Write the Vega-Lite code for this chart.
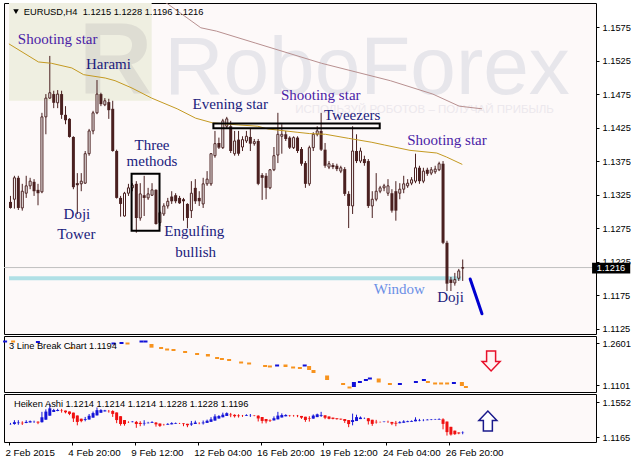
{
"$schema":"https://vega.github.io/schema/vega-lite/v6.json",
"padding":{"left":2,"top":2,"right":0,"bottom":0},
"background":"#ffffff",
"config":{"view":{"stroke":"#000000","strokeWidth":1,"fill":"#fdf9f9"},"axis":{"labelFont":"Liberation Sans","labelFontSize":9.3,"labelColor":"#000000","tickColor":"#000000","domain":false,"grid":false,"labelOverlap":false}},
"resolve":{"scale":{"color":"independent"}},
"datasets":{
"candles":[
{"i":0,"o":1.1314,"h":1.1323,"l":1.1304,"c":1.1305},{"i":1,"o":1.1318,"h":1.1353,"l":1.1304,"c":1.1350},{"i":2,"o":1.1350,"h":1.1353,"l":1.1302,"c":1.1305},{"i":3,"o":1.1305,"h":1.1341,"l":1.1301,"c":1.1330},{"i":4,"o":1.1327,"h":1.1353,"l":1.1320,"c":1.1338},{"i":5,"o":1.1338,"h":1.1350,"l":1.1333,"c":1.1345},{"i":6,"o":1.1344,"h":1.1348,"l":1.1323,"c":1.1330},{"i":7,"o":1.1332,"h":1.1341,"l":1.1309,"c":1.1327},{"i":8,"o":1.1329,"h":1.1447,"l":1.1327,"c":1.1441},{"i":9,"o":1.1441,"h":1.1475,"l":1.1415,"c":1.1469},
{"i":10,"o":1.1469,"h":1.1532,"l":1.1468,"c":1.1477},{"i":11,"o":1.1475,"h":1.1480,"l":1.1454,"c":1.1462},{"i":12,"o":1.1462,"h":1.1481,"l":1.1454,"c":1.1475},{"i":13,"o":1.1475,"h":1.1480,"l":1.1438,"c":1.1444},{"i":14,"o":1.1444,"h":1.1457,"l":1.1430,"c":1.1436},{"i":15,"o":1.1438,"h":1.1439,"l":1.1410,"c":1.1411},{"i":16,"o":1.1411,"h":1.1412,"l":1.1333,"c":1.1336},{"i":17,"o":1.1342,"h":1.1357,"l":1.1296,"c":1.1339},{"i":18,"o":1.1341,"h":1.1357,"l":1.1330,"c":1.1345},{"i":19,"o":1.1342,"h":1.1390,"l":1.1341,"c":1.1386},
{"i":20,"o":1.1386,"h":1.1423,"l":1.1383,"c":1.1420},{"i":21,"o":1.1420,"h":1.1450,"l":1.1415,"c":1.1447},{"i":22,"o":1.1447,"h":1.1496,"l":1.1445,"c":1.1475},{"i":23,"o":1.1475,"h":1.1477,"l":1.1457,"c":1.1460},{"i":24,"o":1.1459,"h":1.1469,"l":1.1457,"c":1.1465},{"i":25,"o":1.1463,"h":1.1468,"l":1.1438,"c":1.1451},{"i":26,"o":1.1453,"h":1.1465,"l":1.1389,"c":1.1390},{"i":27,"o":1.1390,"h":1.1392,"l":1.1319,"c":1.1320},{"i":28,"o":1.1320,"h":1.1323,"l":1.1292,"c":1.1311},{"i":29,"o":1.1293,"h":1.1329,"l":1.1292,"c":1.1327},
{"i":30,"o":1.1327,"h":1.1341,"l":1.1323,"c":1.1335},{"i":31,"o":1.1335,"h":1.1342,"l":1.1330,"c":1.1339},{"i":32,"o":1.1341,"h":1.1345,"l":1.1268,"c":1.1290},{"i":33,"o":1.1290,"h":1.1342,"l":1.1286,"c":1.1326},{"i":34,"o":1.1324,"h":1.1353,"l":1.1293,"c":1.1320},{"i":35,"o":1.1320,"h":1.1335,"l":1.1317,"c":1.1326},{"i":36,"o":1.1324,"h":1.1342,"l":1.1323,"c":1.1332},{"i":37,"o":1.1332,"h":1.1333,"l":1.1280,"c":1.1281},{"i":38,"o":1.1283,"h":1.1301,"l":1.1278,"c":1.1298},{"i":39,"o":1.1296,"h":1.1312,"l":1.1293,"c":1.1308},
{"i":40,"o":1.1308,"h":1.1320,"l":1.1304,"c":1.1315},{"i":41,"o":1.1322,"h":1.1330,"l":1.1311,"c":1.1315},{"i":42,"o":1.1324,"h":1.1327,"l":1.1312,"c":1.1315},{"i":43,"o":1.1320,"h":1.1323,"l":1.1311,"c":1.1312},{"i":44,"o":1.1318,"h":1.1320,"l":1.1286,"c":1.1315},{"i":45,"o":1.1311,"h":1.1312,"l":1.1275,"c":1.1290},{"i":46,"o":1.1301,"h":1.1345,"l":1.1290,"c":1.1327},{"i":47,"o":1.1335,"h":1.1348,"l":1.1311,"c":1.1315},{"i":48,"o":1.1320,"h":1.1330,"l":1.1308,"c":1.1315},{"i":49,"o":1.1311,"h":1.1350,"l":1.1305,"c":1.1341},
{"i":50,"o":1.1341,"h":1.1360,"l":1.1338,"c":1.1348},{"i":51,"o":1.1341,"h":1.1387,"l":1.1338,"c":1.1386},{"i":52,"o":1.1383,"h":1.1420,"l":1.1380,"c":1.1401},{"i":53,"o":1.1402,"h":1.1410,"l":1.1393,"c":1.1395},{"i":54,"o":1.1395,"h":1.1438,"l":1.1393,"c":1.1435},{"i":55,"o":1.1427,"h":1.1441,"l":1.1423,"c":1.1438},{"i":56,"o":1.1427,"h":1.1435,"l":1.1387,"c":1.1390},{"i":57,"o":1.1386,"h":1.1420,"l":1.1383,"c":1.1405},{"i":58,"o":1.1407,"h":1.1420,"l":1.1383,"c":1.1386},{"i":59,"o":1.1396,"h":1.1412,"l":1.1390,"c":1.1407},
{"i":60,"o":1.1405,"h":1.1420,"l":1.1402,"c":1.1412},{"i":61,"o":1.1411,"h":1.1423,"l":1.1390,"c":1.1401},{"i":62,"o":1.1401,"h":1.1408,"l":1.1398,"c":1.1404},{"i":63,"o":1.1405,"h":1.1408,"l":1.1339,"c":1.1341},{"i":64,"o":1.1354,"h":1.1357,"l":1.1317,"c":1.1350},{"i":65,"o":1.1353,"h":1.1357,"l":1.1318,"c":1.1335},{"i":66,"o":1.1335,"h":1.1363,"l":1.1333,"c":1.1362},{"i":67,"o":1.1362,"h":1.1396,"l":1.1360,"c":1.1383},{"i":68,"o":1.1384,"h":1.1447,"l":1.1372,"c":1.1415},{"i":69,"o":1.1412,"h":1.1430,"l":1.1386,"c":1.1415},
{"i":70,"o":1.1415,"h":1.1420,"l":1.1405,"c":1.1408},{"i":71,"o":1.1410,"h":1.1412,"l":1.1393,"c":1.1395},{"i":72,"o":1.1395,"h":1.1412,"l":1.1393,"c":1.1410},{"i":73,"o":1.1410,"h":1.1412,"l":1.1387,"c":1.1390},{"i":74,"o":1.1393,"h":1.1396,"l":1.1368,"c":1.1371},{"i":75,"o":1.1372,"h":1.1375,"l":1.1335,"c":1.1341},{"i":76,"o":1.1341,"h":1.1398,"l":1.1338,"c":1.1395},{"i":77,"o":1.1395,"h":1.1418,"l":1.1390,"c":1.1415},{"i":78,"o":1.1415,"h":1.1427,"l":1.1412,"c":1.1420},{"i":79,"o":1.1420,"h":1.1447,"l":1.1390,"c":1.1392},
{"i":80,"o":1.1392,"h":1.1402,"l":1.1365,"c":1.1368},{"i":81,"o":1.1366,"h":1.1375,"l":1.1363,"c":1.1371},{"i":82,"o":1.1369,"h":1.1372,"l":1.1363,"c":1.1366},{"i":83,"o":1.1368,"h":1.1371,"l":1.1360,"c":1.1363},{"i":84,"o":1.1360,"h":1.1368,"l":1.1357,"c":1.1365},{"i":85,"o":1.1363,"h":1.1366,"l":1.1323,"c":1.1326},{"i":86,"o":1.1326,"h":1.1330,"l":1.1275,"c":1.1308},{"i":87,"o":1.1308,"h":1.1427,"l":1.1296,"c":1.1390},{"i":88,"o":1.1390,"h":1.1415,"l":1.1372,"c":1.1375},{"i":89,"o":1.1375,"h":1.1395,"l":1.1372,"c":1.1390},
{"i":90,"o":1.1378,"h":1.1383,"l":1.1368,"c":1.1372},{"i":91,"o":1.1375,"h":1.1378,"l":1.1305,"c":1.1308},{"i":92,"o":1.1308,"h":1.1330,"l":1.1290,"c":1.1318},{"i":93,"o":1.1318,"h":1.1357,"l":1.1315,"c":1.1330},{"i":94,"o":1.1330,"h":1.1338,"l":1.1327,"c":1.1335},{"i":95,"o":1.1335,"h":1.1341,"l":1.1330,"c":1.1338},{"i":96,"o":1.1327,"h":1.1348,"l":1.1323,"c":1.1338},{"i":97,"o":1.1327,"h":1.1333,"l":1.1298,"c":1.1301},{"i":98,"o":1.1330,"h":1.1345,"l":1.1286,"c":1.1301},{"i":99,"o":1.1327,"h":1.1342,"l":1.1318,"c":1.1333},
{"i":100,"o":1.1333,"h":1.1353,"l":1.1327,"c":1.1341},{"i":101,"o":1.1338,"h":1.1348,"l":1.1335,"c":1.1342},{"i":102,"o":1.1342,"h":1.1351,"l":1.1339,"c":1.1347},{"i":103,"o":1.1345,"h":1.1386,"l":1.1342,"c":1.1365},{"i":104,"o":1.1365,"h":1.1368,"l":1.1341,"c":1.1345},{"i":105,"o":1.1345,"h":1.1365,"l":1.1342,"c":1.1360},{"i":106,"o":1.1362,"h":1.1365,"l":1.1353,"c":1.1356},{"i":107,"o":1.1357,"h":1.1366,"l":1.1354,"c":1.1362},{"i":108,"o":1.1359,"h":1.1368,"l":1.1356,"c":1.1363},{"i":109,"o":1.1362,"h":1.1374,"l":1.1360,"c":1.1371},
{"i":110,"o":1.1371,"h":1.1375,"l":1.1251,"c":1.1253},{"i":111,"o":1.1253,"h":1.1256,"l":1.1181,"c":1.1192},{"i":112,"o":1.1198,"h":1.1202,"l":1.1181,"c":1.1193},{"i":113,"o":1.1193,"h":1.1208,"l":1.1189,"c":1.1198},{"i":114,"o":1.1200,"h":1.1214,"l":1.1196,"c":1.1211},{"i":115,"o":1.1215,"h":1.1228,"l":1.1196,"c":1.1216}
],
"ha":[
{"i":0,"o":1.1309,"h":1.1323,"l":1.1303,"c":1.1311},{"i":1,"o":1.1311,"h":1.1353,"l":1.1303,"c":1.1331},{"i":2,"o":1.1321,"h":1.1353,"l":1.1302,"c":1.1327},{"i":3,"o":1.1324,"h":1.1341,"l":1.1300,"c":1.1319},{"i":4,"o":1.1322,"h":1.1353,"l":1.1320,"c":1.1334},{"i":5,"o":1.1328,"h":1.1350,"l":1.1328,"c":1.1342},{"i":6,"o":1.1335,"h":1.1348,"l":1.1323,"c":1.1336},{"i":7,"o":1.1336,"h":1.1341,"l":1.1309,"c":1.1327},{"i":8,"o":1.1331,"h":1.1447,"l":1.1327,"c":1.1386},{"i":9,"o":1.1359,"h":1.1475,"l":1.1359,"c":1.1450},
{"i":10,"o":1.1404,"h":1.1532,"l":1.1404,"c":1.1486},{"i":11,"o":1.1445,"h":1.1480,"l":1.1445,"c":1.1468},{"i":12,"o":1.1457,"h":1.1481,"l":1.1454,"c":1.1468},{"i":13,"o":1.1463,"h":1.1480,"l":1.1438,"c":1.1459},{"i":14,"o":1.1461,"h":1.1461,"l":1.1430,"c":1.1442},{"i":15,"o":1.1451,"h":1.1451,"l":1.1410,"c":1.1424},{"i":16,"o":1.1438,"h":1.1438,"l":1.1333,"c":1.1373},{"i":17,"o":1.1406,"h":1.1406,"l":1.1296,"c":1.1334},{"i":18,"o":1.1370,"h":1.1370,"l":1.1330,"c":1.1343},{"i":19,"o":1.1356,"h":1.1390,"l":1.1341,"c":1.1365},
{"i":20,"o":1.1361,"h":1.1423,"l":1.1361,"c":1.1403},{"i":21,"o":1.1382,"h":1.1450,"l":1.1382,"c":1.1433},{"i":22,"o":1.1407,"h":1.1496,"l":1.1407,"c":1.1466},{"i":23,"o":1.1437,"h":1.1477,"l":1.1437,"c":1.1467},{"i":24,"o":1.1452,"h":1.1469,"l":1.1452,"c":1.1463},{"i":25,"o":1.1457,"h":1.1468,"l":1.1438,"c":1.1455},{"i":26,"o":1.1456,"h":1.1465,"l":1.1390,"c":1.1424},{"i":27,"o":1.1440,"h":1.1440,"l":1.1320,"c":1.1355},{"i":28,"o":1.1398,"h":1.1398,"l":1.1292,"c":1.1311},{"i":29,"o":1.1355,"h":1.1355,"l":1.1292,"c":1.1310},
{"i":30,"o":1.1332,"h":1.1341,"l":1.1323,"c":1.1331},{"i":31,"o":1.1332,"h":1.1342,"l":1.1330,"c":1.1337},{"i":32,"o":1.1334,"h":1.1345,"l":1.1268,"c":1.1311},{"i":33,"o":1.1323,"h":1.1342,"l":1.1286,"c":1.1311},{"i":34,"o":1.1317,"h":1.1353,"l":1.1293,"c":1.1323},{"i":35,"o":1.1320,"h":1.1335,"l":1.1317,"c":1.1324},{"i":36,"o":1.1322,"h":1.1342,"l":1.1322,"c":1.1330},{"i":37,"o":1.1326,"h":1.1333,"l":1.1281,"c":1.1307},{"i":38,"o":1.1316,"h":1.1316,"l":1.1278,"c":1.1290},{"i":39,"o":1.1303,"h":1.1312,"l":1.1293,"c":1.1302},
{"i":40,"o":1.1303,"h":1.1320,"l":1.1303,"c":1.1312},{"i":41,"o":1.1307,"h":1.1330,"l":1.1307,"c":1.1320},{"i":42,"o":1.1313,"h":1.1327,"l":1.1312,"c":1.1320},{"i":43,"o":1.1317,"h":1.1323,"l":1.1311,"c":1.1316},{"i":44,"o":1.1317,"h":1.1320,"l":1.1286,"c":1.1310},{"i":45,"o":1.1313,"h":1.1313,"l":1.1275,"c":1.1297},{"i":46,"o":1.1305,"h":1.1345,"l":1.1290,"c":1.1316},{"i":47,"o":1.1311,"h":1.1348,"l":1.1311,"c":1.1327},{"i":48,"o":1.1319,"h":1.1330,"l":1.1308,"c":1.1318},{"i":49,"o":1.1319,"h":1.1350,"l":1.1305,"c":1.1327},
{"i":50,"o":1.1323,"h":1.1360,"l":1.1323,"c":1.1347},{"i":51,"o":1.1335,"h":1.1387,"l":1.1335,"c":1.1363},{"i":52,"o":1.1349,"h":1.1420,"l":1.1349,"c":1.1396},{"i":53,"o":1.1372,"h":1.1410,"l":1.1372,"c":1.1400},{"i":54,"o":1.1386,"h":1.1438,"l":1.1386,"c":1.1415},{"i":55,"o":1.1401,"h":1.1441,"l":1.1401,"c":1.1432},{"i":56,"o":1.1416,"h":1.1435,"l":1.1387,"c":1.1410},{"i":57,"o":1.1413,"h":1.1420,"l":1.1383,"c":1.1398},{"i":58,"o":1.1406,"h":1.1420,"l":1.1383,"c":1.1399},{"i":59,"o":1.1402,"h":1.1412,"l":1.1390,"c":1.1401},
{"i":60,"o":1.1402,"h":1.1420,"l":1.1402,"c":1.1410},{"i":61,"o":1.1406,"h":1.1423,"l":1.1390,"c":1.1407},{"i":62,"o":1.1406,"h":1.1408,"l":1.1398,"c":1.1402},{"i":63,"o":1.1404,"h":1.1408,"l":1.1339,"c":1.1373},{"i":64,"o":1.1389,"h":1.1389,"l":1.1317,"c":1.1345},{"i":65,"o":1.1367,"h":1.1367,"l":1.1318,"c":1.1341},{"i":66,"o":1.1354,"h":1.1363,"l":1.1333,"c":1.1348},{"i":67,"o":1.1351,"h":1.1396,"l":1.1351,"c":1.1375},{"i":68,"o":1.1363,"h":1.1447,"l":1.1363,"c":1.1405},{"i":69,"o":1.1384,"h":1.1430,"l":1.1384,"c":1.1411},
{"i":70,"o":1.1397,"h":1.1420,"l":1.1397,"c":1.1412},{"i":71,"o":1.1405,"h":1.1412,"l":1.1393,"c":1.1402},{"i":72,"o":1.1403,"h":1.1412,"l":1.1393,"c":1.1402},{"i":73,"o":1.1403,"h":1.1412,"l":1.1387,"c":1.1400},{"i":74,"o":1.1401,"h":1.1401,"l":1.1368,"c":1.1382},{"i":75,"o":1.1392,"h":1.1392,"l":1.1335,"c":1.1356},{"i":76,"o":1.1374,"h":1.1398,"l":1.1338,"c":1.1368},{"i":77,"o":1.1371,"h":1.1418,"l":1.1371,"c":1.1405},{"i":78,"o":1.1388,"h":1.1427,"l":1.1388,"c":1.1419},{"i":79,"o":1.1403,"h":1.1447,"l":1.1390,"c":1.1412},
{"i":80,"o":1.1408,"h":1.1408,"l":1.1365,"c":1.1381},{"i":81,"o":1.1395,"h":1.1395,"l":1.1363,"c":1.1369},{"i":82,"o":1.1382,"h":1.1382,"l":1.1363,"c":1.1368},{"i":83,"o":1.1375,"h":1.1375,"l":1.1360,"c":1.1365},{"i":84,"o":1.1370,"h":1.1370,"l":1.1357,"c":1.1362},{"i":85,"o":1.1366,"h":1.1366,"l":1.1323,"c":1.1345},{"i":86,"o":1.1355,"h":1.1355,"l":1.1275,"c":1.1310},{"i":87,"o":1.1333,"h":1.1427,"l":1.1296,"c":1.1355},{"i":88,"o":1.1344,"h":1.1415,"l":1.1344,"c":1.1388},{"i":89,"o":1.1366,"h":1.1395,"l":1.1366,"c":1.1383},
{"i":90,"o":1.1375,"h":1.1383,"l":1.1368,"c":1.1376},{"i":91,"o":1.1375,"h":1.1378,"l":1.1305,"c":1.1342},{"i":92,"o":1.1358,"h":1.1358,"l":1.1290,"c":1.1312},{"i":93,"o":1.1335,"h":1.1357,"l":1.1315,"c":1.1330},{"i":94,"o":1.1333,"h":1.1338,"l":1.1327,"c":1.1332},{"i":95,"o":1.1333,"h":1.1341,"l":1.1330,"c":1.1336},{"i":96,"o":1.1334,"h":1.1348,"l":1.1323,"c":1.1333},{"i":97,"o":1.1334,"h":1.1334,"l":1.1298,"c":1.1315},{"i":98,"o":1.1324,"h":1.1345,"l":1.1286,"c":1.1315},{"i":99,"o":1.1320,"h":1.1342,"l":1.1318,"c":1.1330},
{"i":100,"o":1.1325,"h":1.1353,"l":1.1325,"c":1.1339},{"i":101,"o":1.1332,"h":1.1348,"l":1.1332,"c":1.1341},{"i":102,"o":1.1336,"h":1.1351,"l":1.1336,"c":1.1345},{"i":103,"o":1.1341,"h":1.1386,"l":1.1341,"c":1.1359},{"i":104,"o":1.1350,"h":1.1368,"l":1.1341,"c":1.1355},{"i":105,"o":1.1352,"h":1.1365,"l":1.1342,"c":1.1353},{"i":106,"o":1.1353,"h":1.1365,"l":1.1353,"c":1.1359},{"i":107,"o":1.1356,"h":1.1366,"l":1.1354,"c":1.1360},{"i":108,"o":1.1358,"h":1.1368,"l":1.1356,"c":1.1361},{"i":109,"o":1.1360,"h":1.1374,"l":1.1360,"c":1.1367},
{"i":110,"o":1.1363,"h":1.1375,"l":1.1251,"c":1.1312},{"i":111,"o":1.1338,"h":1.1338,"l":1.1181,"c":1.1220},{"i":112,"o":1.1279,"h":1.1279,"l":1.1181,"c":1.1193},{"i":113,"o":1.1236,"h":1.1236,"l":1.1189,"c":1.1197},{"i":114,"o":1.1216,"h":1.1216,"l":1.1196,"c":1.1205},{"i":115,"o":1.1211,"h":1.1228,"l":1.1196,"c":1.1214}
],
"lb":[
{"x1":-0.6,"x2":0.4,"t":1.2709,"u":1.2637,"d":"b"},{"x1":1.4,"x2":2.4,"t":1.2709,"u":1.2637,"d":"o"},{"x1":7.6,"x2":8.6,"t":1.2691,"u":1.2619,"d":"b"},{"x1":16,"x2":17,"t":1.2475,"u":1.2402,"d":"o"},{"x1":26.5,"x2":27.5,"t":1.2637,"u":1.2565,"d":"b"},{"x1":28.5,"x2":29.5,"t":1.2655,"u":1.2583,"d":"b"},{"x1":30,"x2":31,"t":1.2637,"u":1.2565,"d":"o"},{"x1":33.5,"x2":34.5,"t":1.2709,"u":1.2637,"d":"b"},{"x1":34.5,"x2":35.5,"t":1.2709,"u":1.2637,"d":"b"},{"x1":36,"x2":37,"t":1.2583,"u":1.2450,"d":"o"},
{"x1":38.4,"x2":39.4,"t":1.2475,"u":1.2402,"d":"o"},{"x1":39.9,"x2":40.9,"t":1.2420,"u":1.2348,"d":"o"},{"x1":41.5,"x2":42.5,"t":1.2402,"u":1.2330,"d":"o"},{"x1":44.4,"x2":45.4,"t":1.2330,"u":1.2258,"d":"o"},{"x1":47.4,"x2":48.4,"t":1.2258,"u":1.2185,"d":"o"},{"x1":50.1,"x2":51.1,"t":1.2222,"u":1.2131,"d":"o"},{"x1":52.4,"x2":53.4,"t":1.2113,"u":1.2041,"d":"o"},{"x1":53.6,"x2":54.6,"t":1.2077,"u":1.2005,"d":"o"},{"x1":55.4,"x2":56.4,"t":1.2041,"u":1.1969,"d":"o"},{"x1":58.4,"x2":59.4,"t":1.1950,"u":1.1878,"d":"o"},
{"x1":60.4,"x2":61.4,"t":1.1914,"u":1.1842,"d":"o"},{"x1":64.4,"x2":65.4,"t":1.1824,"u":1.1752,"d":"o"},{"x1":65.6,"x2":66.6,"t":1.1806,"u":1.1734,"d":"o"},{"x1":67.4,"x2":68.4,"t":1.1842,"u":1.1770,"d":"b"},{"x1":69.5,"x2":70.5,"t":1.1842,"u":1.1752,"d":"o"},{"x1":71.4,"x2":72.4,"t":1.1770,"u":1.1698,"d":"o"},{"x1":73.1,"x2":74.1,"t":1.1752,"u":1.1680,"d":"o"},{"x1":74.3,"x2":75.3,"t":1.1842,"u":1.1770,"d":"b"},{"x1":75.4,"x2":76.4,"t":1.1788,"u":1.1643,"d":"o"},{"x1":76.5,"x2":77.5,"t":1.1643,"u":1.1535,"d":"o"},
{"x1":79.9,"x2":80.9,"t":1.1445,"u":1.1282,"d":"o"},{"x1":83.9,"x2":84.9,"t":1.1173,"u":1.1101,"d":"o"},{"x1":85.5,"x2":86.5,"t":1.1047,"u":1.0975,"d":"o"},{"x1":86.6,"x2":87.6,"t":1.1210,"u":1.1029,"d":"b"},{"x1":88.1,"x2":89.1,"t":1.1246,"u":1.1174,"d":"b"},{"x1":89.6,"x2":90.6,"t":1.1318,"u":1.1246,"d":"b"},{"x1":90.6,"x2":91.6,"t":1.1372,"u":1.1300,"d":"b"},{"x1":92.8,"x2":93.8,"t":1.1336,"u":1.1192,"d":"o"},{"x1":95.6,"x2":96.6,"t":1.1173,"u":1.1101,"d":"o"},{"x1":98.1,"x2":99.1,"t":1.1173,"u":1.1101,"d":"b"},
{"x1":102.1,"x2":103.1,"t":1.1246,"u":1.1174,"d":"b"},{"x1":104.1,"x2":105.1,"t":1.1318,"u":1.1246,"d":"b"},{"x1":105.1,"x2":106.1,"t":1.1246,"u":1.1174,"d":"o"},{"x1":106.9,"x2":107.9,"t":1.1192,"u":1.1120,"d":"o"},{"x1":108.4,"x2":109.4,"t":1.1192,"u":1.1120,"d":"o"},{"x1":109.9,"x2":110.9,"t":1.1192,"u":1.1120,"d":"o"},{"x1":111.6,"x2":112.6,"t":1.1210,"u":1.1138,"d":"b"},{"x1":113.6,"x2":114.6,"t":1.1210,"u":1.1065,"d":"o"},{"x1":114.6,"x2":115.6,"t":1.1065,"u":1.0993,"d":"o"}
],
"ma1":[
{"i":-0.4,"p":1.1550},{"i":7.1,"p":1.1523},{"i":10.4,"p":1.1521},{"i":15.6,"p":1.1514},{"i":18.6,"p":1.1504},{"i":24.1,"p":1.1499},{"i":26.6,"p":1.1495},{"i":30.9,"p":1.1484},{"i":35.9,"p":1.1469},{"i":42.4,"p":1.1453},{"i":47.1,"p":1.1439},{"i":51.4,"p":1.1432},{"i":57.9,"p":1.1429},{"i":62.9,"p":1.1427},{"i":65.4,"p":1.1423},{"i":72.9,"p":1.1418},{"i":76.1,"p":1.1416},{"i":80.1,"p":1.1415},{"i":85.9,"p":1.1409},{"i":91.9,"p":1.1403},{"i":95.1,"p":1.1399},{"i":101.6,"p":1.1391},{"i":108.4,"p":1.1387},{"i":110.9,"p":1.1381},{"i":114.9,"p":1.1370}
],
"ma2":[
{"i":36.6,"p":1.1621},{"i":39.9,"p":1.1610},{"i":48.4,"p":1.1574},{"i":52.4,"p":1.1569},{"i":62.4,"p":1.1551},{"i":79.1,"p":1.1521},{"i":96.6,"p":1.1495},{"i":107.4,"p":1.1475},{"i":114.1,"p":1.1457},{"i":119.9,"p":1.1453}
],
"notes":[
{"t":"Shooting star","x":12,"y":1.1550,"g":"p"},{"t":"Harami","x":24.9,"y":1.1513,"g":"n"},{"t":"Evening star","x":55.9,"y":1.1453,"g":"n"},{"t":"Shooting star","x":78.9,"y":1.1466,"g":"p"},{"t":"Tweezers","x":86.9,"y":1.1436,"g":"n"},{"t":"Shooting star","x":111,"y":1.1399,"g":"p"},{"t":"Window","x":98.9,"y":1.1177,"g":"w"},{"t":"Doji","x":111.9,"y":1.1165,"g":"n"},{"t":"Three","x":36,"y":1.1392,"g":"n"},{"t":"methods","x":36,"y":1.1367,"g":"n"},{"t":"Engulfing","x":46.75,"y":1.1263,"g":"n"},{"t":"bullish","x":47.1,"y":1.1232,"g":"n"},{"t":"Doji","x":16.9,"y":1.1289,"g":"n"},{"t":"Tower","x":16.75,"y":1.1259,"g":"n"}
]
},
"vconcat":[
{"width":592,"height":331,
"resolve":{"axis":{"y":"independent","x":"independent"}},
"layer":[
{"data":{"values":[{"a":-0.375,"b":35.9,"t":1.1611,"u":1.1465}]},"mark":{"type":"rect","color":"#efefe1"},
"encoding":{"x":{"field":"a","type":"quantitative","scale":{"domain":[-0.375,147.625],"nice":false,"zero":false},"axis":null},"x2":{"field":"b"},
"y":{"field":"t","type":"quantitative","scale":{"domain":[1.11168,1.1611],"nice":false,"zero":false},"axis":{"orient":"right","title":null,"values":[1.1125,1.1175,1.1225,1.1275,1.1325,1.1375,1.1425,1.1475,1.1525,1.1575],"format":".4f","tickSize":3,"labelPadding":3,"labelOverlap":false}},"y2":{"field":"u"}}},
{"data":{"values":[{"t":"R","x":17.375,"y":1.1475}]},"mark":{"type":"text","font":"Liberation Sans","fontWeight":"bold","fontSize":102,"color":"#deddd3","align":"left","baseline":"alphabetic"},
"encoding":{"x":{"field":"x","type":"quantitative","axis":null},"y":{"field":"y","type":"quantitative","axis":null},"text":{"field":"t"}}},
{"data":{"values":[{"t":"RoboForex","x":39.1,"y":1.1475}]},"mark":{"type":"text","font":"Liberation Sans","fontSize":82,"color":"#e7e6eb","align":"left","baseline":"alphabetic"},
"encoding":{"x":{"field":"x","type":"quantitative","axis":null},"y":{"field":"y","type":"quantitative","axis":null},"text":{"field":"t"}}},
{"data":{"values":[{"t":"ИСПОЛЬЗУЙ РОБОТОВ – ПОЛУЧАЙ ПРИБЫЛЬ","x":72.4,"y":1.1447}]},"mark":{"type":"text","font":"Liberation Sans","fontSize":11.5,"color":"#ece8ed","align":"left","baseline":"alphabetic"},
"encoding":{"x":{"field":"x","type":"quantitative","axis":null},"y":{"field":"y","type":"quantitative","axis":null},"text":{"field":"t"}}},
{"data":{"values":[{"a":-0.375,"b":114.6,"t":1.1203,"u":1.1197}]},"mark":{"type":"rect","color":"#b0e0e6"},
"encoding":{"x":{"field":"a","type":"quantitative","axis":null},"x2":{"field":"b"},"y":{"field":"t","type":"quantitative","axis":null},"y2":{"field":"u"}}},
{"data":{"values":[{"p":1.1216}]},"mark":{"type":"rule","color":"#c0c0c0","strokeWidth":1},
"encoding":{"y":{"field":"p","type":"quantitative","axis":null}}},
{"data":{"name":"candles"},"mark":{"type":"rule","color":"#4a2020","strokeWidth":1},
"encoding":{"x":{"field":"i","type":"quantitative","axis":null},"y":{"field":"l","type":"quantitative","axis":null},"y2":{"field":"h"}}},
{"data":{"name":"candles"},"transform":[{"filter":"datum.c < datum.o"}],"mark":{"type":"bar","size":3,"color":"#4a2020"},
"encoding":{"x":{"field":"i","type":"quantitative","axis":null},"y":{"field":"o","type":"quantitative","axis":null},"y2":{"field":"c"}}},
{"data":{"name":"candles"},"transform":[{"filter":"datum.c >= datum.o"}],"mark":{"type":"bar","size":2,"fill":"#ffffff","stroke":"#4a2020","strokeWidth":1},
"encoding":{"x":{"field":"i","type":"quantitative","axis":null},"y":{"field":"o","type":"quantitative","axis":null},"y2":{"field":"c"}}},
{"data":{"name":"ma2"},"mark":{"type":"line","color":"#b89090","strokeWidth":1,"clip":true},
"encoding":{"x":{"field":"i","type":"quantitative","axis":null},"y":{"field":"p","type":"quantitative","axis":null}}},
{"data":{"name":"ma1"},"mark":{"type":"line","color":"#c49a22","strokeWidth":1},
"encoding":{"x":{"field":"i","type":"quantitative","axis":null},"y":{"field":"p","type":"quantitative","axis":null}}},
{"data":{"values":[{"a":30.8,"b":37.9,"t":1.1356,"u":1.1271},{"a":51.6,"b":93.9,"t":1.1431,"u":1.1424}]},"mark":{"type":"rect","fillOpacity":0,"stroke":"#000000","strokeWidth":2},
"encoding":{"x":{"field":"a","type":"quantitative","axis":null},"x2":{"field":"b"},"y":{"field":"t","type":"quantitative","axis":null},"y2":{"field":"u"}}},
{"data":{"name":"notes"},"mark":{"type":"text","font":"Liberation Serif","fontSize":15,"align":"center","baseline":"alphabetic"},
"encoding":{"x":{"field":"x","type":"quantitative","axis":null},"y":{"field":"y","type":"quantitative","axis":null},"text":{"field":"t"},
"color":{"field":"g","type":"nominal","scale":{"domain":["p","n","w"],"range":["#4a1ca6","#20207c","#6b8fe6"]},"legend":null}}},
{"data":{"values":[{"i":116.9,"p":1.1199},{"i":119.9,"p":1.1147}]},"mark":{"type":"line","color":"#0000d0","strokeWidth":3,"strokeCap":"round"},
"encoding":{"x":{"field":"i","type":"quantitative","axis":null},"y":{"field":"p","type":"quantitative","axis":null}}},
{"data":{"values":[{"x":1.4,"y":1.1598}]},"mark":{"type":"point","shape":"triangle-down","size":30,"filled":true,"color":"#000000","opacity":1},
"encoding":{"x":{"field":"x","type":"quantitative","axis":null},"y":{"field":"y","type":"quantitative","axis":null}}},
{"data":{"values":[{"t":"EURUSD,H4 \u00a01.1215 1.1228 1.1196 1.1216","x":3.375,"y":1.1598}]},"mark":{"type":"text","font":"Liberation Sans","fontSize":9.3,"color":"#000000","align":"left","baseline":"middle"},
"encoding":{"x":{"field":"x","type":"quantitative","axis":null},"y":{"field":"y","type":"quantitative","axis":null},"text":{"field":"t"}}},
{"data":{"values":[{"a":147.9,"b":157.6,"t":1.1223,"u":1.1207}]},"mark":{"type":"rect","color":"#000000"},
"encoding":{"x":{"field":"a","type":"quantitative","axis":null},"x2":{"field":"b"},"y":{"field":"t","type":"quantitative","axis":null},"y2":{"field":"u"}}},
{"data":{"values":[{"t":"1.1216","x":149.1,"y":1.1215}]},"mark":{"type":"text","font":"Liberation Sans","fontSize":9.3,"color":"#ffffff","align":"left","baseline":"middle"},
"encoding":{"x":{"field":"x","type":"quantitative","axis":null},"y":{"field":"y","type":"quantitative","axis":null},"text":{"field":"t"}}}
]},
{"width":592,"height":56,
"resolve":{"axis":{"y":"independent","x":"independent"}},
"layer":[
{"data":{"name":"lb"},"transform":[{"filter":"datum.d == 'o'"}],"mark":{"type":"rect","color":"#f7931e"},
"encoding":{"x":{"field":"x1","type":"quantitative","scale":{"domain":[-0.375,147.625],"nice":false,"zero":false},"axis":null},"x2":{"field":"x2"},
"y":{"field":"t","type":"quantitative","scale":{"domain":[1.0848,1.2872],"nice":false,"zero":false},"axis":{"orient":"right","title":null,"values":[1.2601,1.1101],"format":".4f","tickSize":3,"labelPadding":3,"labelOverlap":false}},"y2":{"field":"u"}}},
{"data":{"name":"lb"},"transform":[{"filter":"datum.d == 'b'"}],"mark":{"type":"rect","color":"#1010d8"},
"encoding":{"x":{"field":"x1","type":"quantitative","axis":null},"x2":{"field":"x2"},"y":{"field":"t","type":"quantitative","axis":null},"y2":{"field":"u"}}},
{"data":{"values":[{"t":"3 Line Break Chart 1.1194","x":0.875,"y":1.2511}]},"mark":{"type":"text","font":"Liberation Sans","fontSize":9.3,"color":"#000000","align":"left","baseline":"middle"},
"encoding":{"x":{"field":"x","type":"quantitative","axis":null},"y":{"field":"y","type":"quantitative","axis":null},"text":{"field":"t"}}},
{"data":{"values":[{"x":121.4,"y":1.1968}]},"mark":{"type":"point","shape":"M-0.45,-1L0.45,-1L0.45,0.05L0.9,0.05L0,1L-0.9,0.05L-0.45,0.05Z","size":400,"filled":true,"fill":"#fff4f4","stroke":"#e8102a","strokeWidth":1.5,"opacity":1},
"encoding":{"x":{"field":"x","type":"quantitative","axis":null},"y":{"field":"y","type":"quantitative","axis":null}}}
]},
{"width":592,"height":48,
"resolve":{"axis":{"y":"independent","x":"independent"}},
"layer":[
{"data":{"name":"ha"},"mark":{"type":"rule","strokeWidth":1},
"encoding":{"x":{"field":"i","type":"quantitative","scale":{"domain":[-0.375,147.625],"nice":false,"zero":false},
"axis":{"title":null,"values":[-0.4,15.6,31.6,47.6,63.6,79.6,95.6,111.6],"labelExpr":"['2 Feb 2015','4 Feb 20:00','9 Feb 12:00','12 Feb 04:00','16 Feb 20:00','19 Feb 12:00','24 Feb 04:00','26 Feb 20:00'][round((datum.value+0.4)/16)]","labelAlign":"left","labelBaseline":"top","labelPadding":2,"labelOffset":-4,"labelFontSize":9.8,"tickSize":3,"labelFlush":false,"labelOverlap":false,"labelBound":false}},
"y":{"field":"l","type":"quantitative","scale":{"domain":[1.1109,1.1647],"nice":false,"zero":false},"axis":{"orient":"right","title":null,"values":[1.1552,1.1165],"format":".4f","tickSize":3,"labelPadding":3,"labelOverlap":false}},"y2":{"field":"h"},
"color":{"condition":{"test":"datum.c >= datum.o","value":"#1515d8"},"value":"#f01010"}}},
{"data":{"name":"ha"},"mark":{"type":"bar","size":3},
"encoding":{"x":{"field":"i","type":"quantitative","axis":null},"y":{"field":"o","type":"quantitative","axis":null},"y2":{"field":"c"},
"color":{"condition":{"test":"datum.c >= datum.o","value":"#1515d8"},"value":"#f01010"}}},
{"data":{"values":[{"t":"Heiken Ashi 1.1214 1.1214 1.1214 1.1228 1.1228 1.1196","x":0.875,"y":1.1535}]},"mark":{"type":"text","font":"Liberation Sans","fontSize":9.3,"color":"#000000","align":"left","baseline":"middle"},
"encoding":{"x":{"field":"x","type":"quantitative","axis":null},"y":{"field":"y","type":"quantitative","axis":null},"text":{"field":"t"}}},
{"data":{"values":[{"x":121.4,"y":1.1344}]},"mark":{"type":"point","shape":"M-0.45,1L0.45,1L0.45,-0.05L0.9,-0.05L0,-1L-0.9,-0.05L-0.45,-0.05Z","size":400,"filled":true,"fill":"#ffffff","stroke":"#1a1a8c","strokeWidth":1.5,"opacity":1},
"encoding":{"x":{"field":"x","type":"quantitative","axis":null},"y":{"field":"y","type":"quantitative","axis":null}}}
]}
],
"spacing":2,
"bounds":"flush"
}
